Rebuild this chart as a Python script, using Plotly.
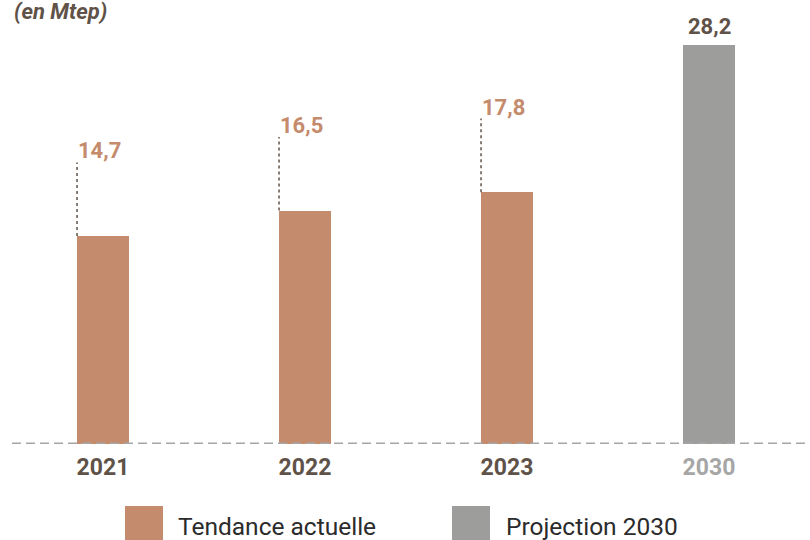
import plotly.graph_objects as go

# ---- data ----
years = ["2021", "2022", "2023", "2030"]
tendance_years = ["2021", "2022", "2023"]
tendance_values = [14.7, 16.5, 17.8]
projection_years = ["2030"]
projection_values = [28.2]
series_names = ["Tendance actuelle", "Projection 2030"]
unit_label = "(en Mtep)"

# ---- style ----
TAN = "#c48b6c"
GREY = "#9d9d9b"
DARK = "#5f5248"
LIGHTGREY = "#a6a6a6"
FONT = "Roboto, Liberation Sans, sans-serif"
BAR_W = 0.257
LBL_OFF = 5.2  # data units above bar top for leader line

L, R, T, B = 2, 0, 0, 96
W, H = 810, 540
plot_w = W - L - R
plot_h = H - T - B
px_per_unit = 14.15
ymax = plot_h / px_per_unit

xi = {y: i for i, y in enumerate(years)}

fig = go.Figure()
fig.add_trace(go.Bar(
    x=[xi[y] for y in tendance_years], y=tendance_values, name=series_names[0],
    marker=dict(color=TAN, line=dict(width=0)), width=BAR_W, showlegend=False,
))
fig.add_trace(go.Bar(
    x=[xi[y] for y in projection_years], y=projection_values, name=series_names[1],
    marker=dict(color=GREY, line=dict(width=0)), width=BAR_W, showlegend=False,
))

shapes = []
annotations = []

# leader lines + labels for trend bars
for y, v in zip(tendance_years, tendance_values):
    x0 = xi[y] - BAR_W / 2
    shapes.append(dict(type="line", xref="x", yref="y", x0=x0, x1=x0, y0=v, y1=v + LBL_OFF,
                       line=dict(color=DARK, width=1.5, dash="dot")))
    annotations.append(dict(xref="x", yref="y", x=x0, y=v + LBL_OFF, xanchor="left", yanchor="bottom",
                            xshift=-1, yshift=-3, showarrow=False, text="<b>%s</b>" % f"{v:.1f}".replace(".", ","),
                            font=dict(family=FONT, size=22, color=TAN)))

for y, v in zip(projection_years, projection_values):
    annotations.append(dict(xref="x", yref="y", x=xi[y], y=v, xanchor="center", yanchor="bottom",
                            yshift=4, showarrow=False, text="<b>%s</b>" % f"{v:.1f}".replace(".", ","),
                            font=dict(family=FONT, size=22, color=DARK)))

# dashed baseline
shapes.append(dict(type="line", xref="paper", yref="y", x0=(12 - L) / plot_w, x1=1, y0=0, y1=0,
                   line=dict(color=LIGHTGREY, width=3, dash="9px,5px")))

# unit label
annotations.append(dict(xref="paper", yref="paper", x=(12 - L) / plot_w, y=1 - 12 / plot_h,
                        xanchor="left", yanchor="middle", showarrow=False,
                        text="<b><i>%s</i></b>" % unit_label,
                        font=dict(family=FONT, size=22, color=DARK)))

# custom legend
def px2x(p):
    return (p - L) / plot_w

def py2y(p):
    return (T + plot_h - p) / plot_h

legend_items = [(series_names[0], TAN, 125, 176), (series_names[1], GREY, 452, 504)]
for name, col, sx, tx in legend_items:
    shapes.append(dict(type="rect", xref="paper", yref="paper", x0=px2x(sx), x1=px2x(sx + 38),
                       y0=py2y(506), y1=py2y(545), fillcolor=col, line=dict(width=0)))
    annotations.append(dict(xref="paper", yref="paper", x=px2x(tx), y=py2y(526), xanchor="left",
                            yanchor="middle", showarrow=False, text=name,
                            font=dict(family=FONT, size=24.5, color="#2b2b2b")))

ticktext = []
for y in years:
    col = LIGHTGREY if y in projection_years else DARK
    ticktext.append("<b><span style='color:%s'>%s</span></b>" % (col, y))

fig.update_layout(
    width=W, height=H,
    margin=dict(l=L, r=R, t=T, b=B),
    paper_bgcolor="white", plot_bgcolor="white",
    xaxis=dict(range=[-0.5, len(years) - 0.5], tickvals=list(range(len(years))), ticktext=ticktext,
               showgrid=False, zeroline=False, showline=False, ticks="outside", ticklen=2,
               tickcolor="rgba(0,0,0,0)", tickfont=dict(family=FONT, size=23, color=DARK)),
    yaxis=dict(range=[0, ymax], visible=False, showgrid=False, zeroline=False),
    shapes=shapes, annotations=annotations, showlegend=False,
    bargap=0,
)

fig.write_html("out.html", config={"displayModeBar": False},
               post_script="document.body.style.margin='0';document.body.style.overflow='hidden';")
